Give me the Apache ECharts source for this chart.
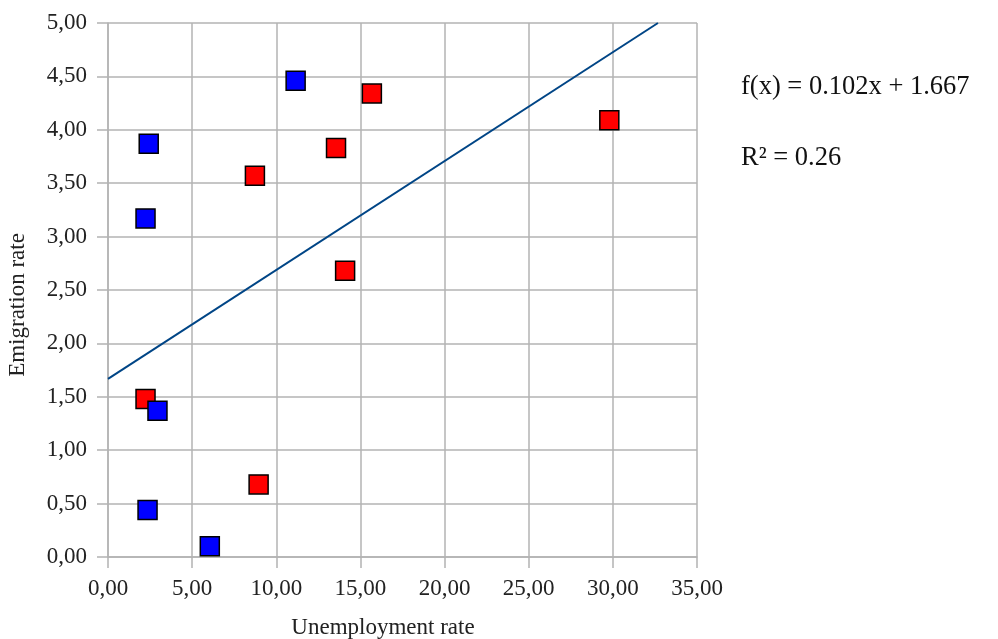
<!DOCTYPE html>
<html>
<head>
<meta charset="utf-8">
<script src="https://cdn.jsdelivr.net/npm/echarts@6/dist/echarts.min.js"></script>
<style>
html,body{margin:0;padding:0;background:#fff;}
#chart{width:998px;height:639px;}
</style>
</head>
<body>
<div id="chart"></div>
<script>
// Blue series (x = unemployment rate, y = emigration rate)
var blueX = [11.15, 2.42, 2.23, 2.94, 2.35, 6.05];
var blueY = [4.46, 3.87, 3.17, 1.37, 0.44, 0.10];
// Red series
var redX = [15.68, 29.79, 13.55, 8.73, 14.09, 2.23, 8.95];
var redY = [4.34, 4.09, 3.83, 3.57, 2.68, 1.48, 0.68];
// Trend line endpoints (f(x) = 0.102x + 1.667)
var trendX = [0, 32.68];
var trendY = [1.667, 5.0];
// Texts
var xName = 'Unemployment rate';
var yName = 'Emigration rate';
var formulaText = 'f(x) = 0.102x + 1.667';
var r2Text = 'R² = 0.26';

function pairs(xs, ys) { return xs.map(function (x, i) { return [x, ys[i]]; }); }
function fmt(v) { return v.toFixed(2).replace('.', ','); }

var grey = '#b3b3b3';
var font = '"Liberation Serif", "Times New Roman", serif';

var chart = echarts.init(document.getElementById('chart'), null, {renderer: 'canvas'});
chart.setOption({
  animation: false,
  backgroundColor: '#ffffff',
  grid: {left: 108, right: 301, top: 23, bottom: 82, containLabel: false},
  xAxis: {
    type: 'value', min: 0, max: 35, interval: 5,
    axisLine: {show: true, onZero: false, lineStyle: {color: grey, width: 1.5}},
    axisTick: {show: true, length: 11, lineStyle: {color: grey, width: 1.5}},
    axisLabel: {fontFamily: font, fontSize: 23, color: '#222', margin: 20, formatter: fmt},
    splitLine: {show: true, lineStyle: {color: grey, width: 1.5}}
  },
  yAxis: {
    type: 'value', min: 0, max: 5, interval: 0.5,
    axisLine: {show: true, onZero: false, lineStyle: {color: grey, width: 1.5}},
    axisTick: {show: true, length: 11, lineStyle: {color: grey, width: 1.5}},
    axisLabel: {fontFamily: font, fontSize: 23, color: '#222', margin: 21, formatter: fmt},
    splitLine: {show: true, lineStyle: {color: grey, width: 1.5}}
  },
  series: [
    {
      type: 'line', data: pairs(trendX, trendY), symbol: 'none',
      lineStyle: {color: '#004586', width: 2}, z: 2, silent: true
    },
    {
      type: 'scatter', data: pairs(redX, redY), symbol: 'rect', symbolSize: 19,
      itemStyle: {color: '#ff0000', borderColor: '#000', borderWidth: 1.5, opacity: 1}, z: 3
    },
    {
      type: 'scatter', data: pairs(blueX, blueY), symbol: 'rect', symbolSize: 19,
      itemStyle: {color: '#0000ff', borderColor: '#000', borderWidth: 1.5, opacity: 1}, z: 4
    }
  ],
  graphic: [
    {type: 'text', x: 383, y: 628, style: {text: xName, fontFamily: font, fontSize: 23, fill: '#222', align: 'center', verticalAlign: 'middle'}},
    {type: 'text', x: 18, y: 305, rotation: Math.PI / 2, style: {text: yName, fontFamily: font, fontSize: 23, fill: '#222', align: 'center', verticalAlign: 'middle'}},
    {type: 'text', left: 741, top: 74, style: {text: formulaText, fontFamily: font, fontSize: 26.5, fill: '#111'}},
    {type: 'text', left: 741, top: 145, style: {text: r2Text, fontFamily: font, fontSize: 26.5, fill: '#111'}}
  ]
});
</script>
</body>
</html>
